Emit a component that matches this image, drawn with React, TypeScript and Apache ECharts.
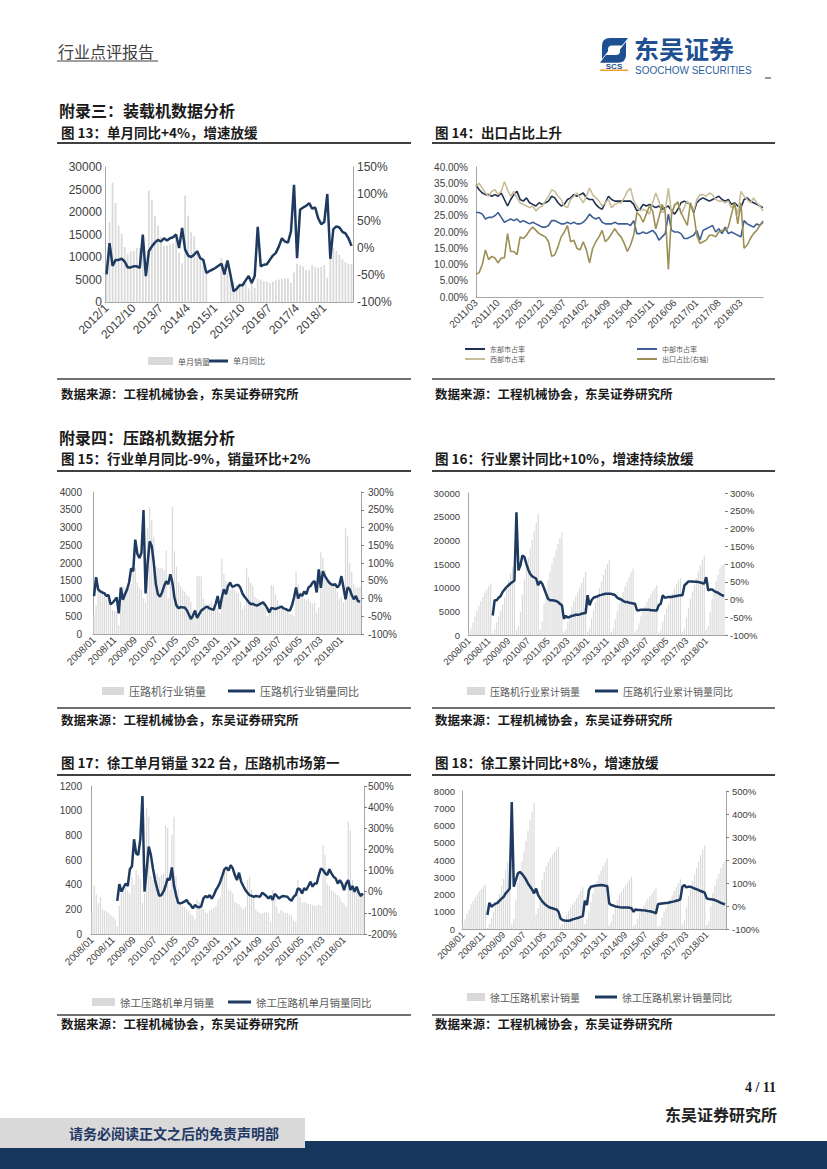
import React, { useEffect, useRef } from "react";
import * as echarts from "echarts";

// ---------- categories ----------
function months(y0: number, m0: number, n: number, pad: boolean): string[] {
  const out: string[] = [];
  let y = y0, m = m0;
  for (let i = 0; i < n; i++) {
    out.push(pad ? `${y}/${String(m).padStart(2, "0")}` : `${y}/${m}`);
    m++;
    if (m > 12) { m = 1; y++; }
  }
  return out;
}
const cats13 = months(2012, 1, 82, false);
const cats14 = months(2011, 3, 92, true);
const catsRoller = months(2008, 1, 130, true);

// ---------- Fig 13: loader monthly sales & YoY ----------
const loaderSales = [
  7000, 17800, 26500, 22000, 17000, 15100, 12200, 10700, 11300, 11300, 12000, 12000,
  11200, 8500, 24700, 22700, 19100, 17000, 14500, 12500, 12500, 12800, 13000, 15000,
  11000, 8600, 23700, 19200, 15500, 14600, 11500, 9800, 8000, 6500, null, null,
  null, null, 9800, 8500, 6500, 5000, 4500, 3800, 4200, 4400, 4000, 3000,
  4200, 3100, 5200, 5000, 4600, 4500, 4200, 4500, 4800, 5000, 5200, 5200,
  5300, 4200, 6600, 8500, 8100, 7900, 7100, 7000, 8200, 7800, 7600, 7800,
  8200, 5400, 12500, 12000, 11300, 10500, 9500, 8900, 8500, 8400,
];
const loaderYoY = [
  -49, 9, -33, -22, -22, -20, -25, -36, -36, -34,
  -34, -37, 25, -52, -6, 3, 10, 15, 12, 18,
  14, 18, 20, 25, 0, 37, -3, -14, -17, -12,
  -6, -19, -22, -46, -43, -40, -37, -33, -29, -49,
  -23, -50, -80, -76, -69, -69, -60, -52, -65, -52,
  39, -34, -31, -30, -22, -14, -9, 3, 18, 12,
  10, 31, 117, -19, 71, 75, 78, 83, 73, 75,
  55, 44, 48, 100, -20, 35, 40, 38, 30, 27,
  18, 4,
];

// ---------- Fig 14: regional shares & export share ----------
const eastShare = [
  34.5, 33, 32, 31.5, 31.5, 31, 31.5, 31, 32, 30,
  28, 30, 31.5, 32.5, 30, 29.5, 30.5, 29, 28.5, 28,
  29, 28.5, 29, 29.5, 31, 30.5, 29, 28, 28.5, 30,
  30.5, 31.5, 31, 31.5, 32, 30.5, 30, 30, 28.5, 27.5,
  27, 29, 31, 30, 29.5, 29.5, 29.5, 29.5, 29.5, 29.5,
  28.5, 26.5, 27, 28.5, 28, 28.5, 28, 27.5, 28, 27,
  27.5, 28, 26.5, 25.5, 27, 29, 29.5, 29, 28.5, 26,
  29, 30, 30.5, 30, 29.5, 30, 30.5, 31, 30, 29.5,
  30, 28.5, 29, 28, 27.5, 30, 30.5, 29.5, 29, 28.5,
  28, 27.5,
];
const centralShare = [
  26, 26, 25.5, 24, 24.5, 24.5, 25, 26, 24.5, 23,
  23.5, 24, 23.5, 24, 23, 23.5, 23, 22.5, 23, 22.5,
  22, 21.5, 21.5, 22, 23.5, 23.5, 23, 22.5, 22.5, 23,
  22.5, 23, 22.5, 22.5, 23, 24, 25.5, 24.5, 24, 24.5,
  23, 22.5, 22.5, 22.5, 23, 22.5, 22.5, 22.5, 22.5, 22,
  23.5, 19.5, 19.5, 20, 19.5, 20, 20.5, 19.5, 17.5, 18.5,
  19.5, 25.5, 20.5, 20, 20, 19.5, 18, 18, 18.5, 19,
  20.5, 17.5, 20.5, 21, 21.5, 22, 20, 21, 19.5, 21.5,
  19.5, 20, 19.5, 19, 18.5, 23.5, 22.5, 22, 21.5, 22.5,
  22, 23,
];
const westShare = [
  34, 35, 33.5, 32, 31, 32.5, 33, 31.5, 32.5, 35.5,
  33, 31, 32.5, 30.5, 29, 28.5, 28, 27.5, 28, 26.5,
  27.5, 28, 29.5, 31, 33, 32.5, 31, 30, 28, 27.5,
  30, 31, 32, 30.5, 29, 31, 33.5, 31.5, 30.5, 29.5,
  28, 29, 30, 27.5, 28.5, 29, 29, 30.5, 32.5, 33.5,
  29.5, 28, 26.5, 27, 26.5, 25.5, 29, 32, 29.5, 26,
  26.5, 33.5, 25.5, 28, 29.5, 25.5, 27.5, 29.5, 28, 26.5,
  30, 31.5, 31.5, 31, 32, 31.5, 30, 29.5, 29.5, 29,
  29.5, 27.5, 28.5, 25.5, 32.5, 31, 30, 29, 30.5, 29,
  28, 26.5,
];
const exportShare = [
  7, 7.5, 10, 14.5, 11.5, 12.5, 12, 10.5, 12, 12,
  19.5, 14, 14, 13, 18.5, 18, 19, 20.5, 21.5, 20.5,
  19.5, 19, 18.5, 17, 12.5, 13, 15.5, 18.5, 20, 22,
  17, 17.5, 15, 14.5, 17, 14.5, 10.5, 15, 17, 18.5,
  20.5, 17, 18, 19.5, 21, 19.5, 18.5, 16.5, 14, 16,
  19, 26, 25, 23, 25.5, 28, 26.5, 21, 24.5, 28.5,
  26, 8.5, 25.5, 28.5, 29, 26, 24, 22, 29, 26,
  19, 16.5, 17, 17.5, 19, 19, 18.5, 20, 20.5, 20.5,
  21.5, 25.5, 29, 22.5, 29, 15, 16, 18, 19.5, 20.5,
  22, 23.5,
];

// ---------- Fig 15: roller industry monthly sales & YoY ----------
const rollerSales = [
  550, 800, 1300, 1250, 1150, 1100, 1000, 950, 850, 680, 650, 640,
  250, 1000, 1350, 1300, 1250, 1300, 1400, 1860, 1860, 1450, 1300, 1250,
  1000, 900, 2980, 3580, 3210, 2740, 1900, 1860, 1850, 1850, 1800, 2350,
  1000, 1500, 3580, 2330, 1900, 1450, 1350, 1250, 1200, 1100, 1050, 900,
  600, 500, 1630, 1640, 1620, 1000, 850, 800, 850, 900, 800, 750,
  750, 600, 2120, 1700, 1500, 1350, 1250, 1300, 1280, 1200, 1150, 900,
  700, 800, 1850, 1600, 1450, 1350, 1050, 1000, 950, 900, 850, 750,
  500, 600, 1380, 1350, 1120, 950, 850, 800, 700, 700, 650, 560,
  550, 500, 1770, 1400, 1200, 1100, 1000, 950, 1000, 900, 850, 880,
  600, 750, 2300, 2150, 1800, 1500, 1400, 1350, 1350, 1300, 1200, 1000,
  1050, 900, 2980, 2750, 2000, 1750, 1400, 1300, 1300, 1330,
];
const rollerYoY = [
  7, 60, 26, 20, 17, 15, 7, 10, -16, -12,
  -5, 3, -42, 31, -4, 12, 25, 45, 85, 77,
  166, 126, 114, 128, 249, 14, 100, 161, 147, 100,
  40, 12, 5, 17, 35, 49, 40, 68, 45, 3,
  -20, -27, -24, -25, -25, -33, -45, -58, -48, -34,
  -55, -44, -34, -30, -25, -23, -28, -30, -32, -15,
  7, -30, 3, 26, 12, 35, 45, 33, 35, 38,
  38, 30, 14, 5, -2, -10, -16, -15, -18, -20,
  -17, -14, -11, -18, -27, -39, -27, -28, -30, -27,
  -25, -23, -28, -30, -33, -34, -20, 3, 31, 0,
  12, 8, 20, 12, 31, 35, 45, 49, 17, 82,
  30, 77, 63, 54, 45, 40, 38, 40, 31, 38,
  63, 31, -2, 31, 26, 10, -2, 7, -7, -9,
];

// ---------- Fig 16: roller industry cumulative sales & YoY ----------
const rollerCum = [
  550, 1350, 2650, 3900, 5050, 6150, 7150, 8100, 8950, 9650, 10300, 10950,
  300, 1300, 2650, 3950, 5200, 6500, 7900, 9750, 11600, 13050, 14350, 15600,
  1000, 1900, 4900, 8500, 11700, 14450, 16350, 18200, 20050, 21900, 23700, 25600,
  1100, 2800, 6600, 9300, 11600, 13400, 15000, 16500, 17900, 19200, 20500, 21700,
  600, 1100, 2750, 4400, 6000, 7200, 8200, 9100, 10050, 11000, 12100, 13300,
  750, 1400, 3500, 5300, 7000, 8500, 9900, 11300, 12700, 13900, 15000, 15800,
  700, 1500, 3350, 5000, 6600, 8000, 9200, 10300, 11300, 12300, 13200, 14000,
  500, 1100, 2500, 3900, 5050, 6050, 6950, 7800, 8550, 9300, 9950, 10500,
  550, 1050, 2850, 4300, 5550, 6700, 7750, 8750, 9800, 10750, 11500, 12000,
  600, 1350, 3650, 5800, 7650, 9200, 10600, 12000, 13400, 14700, 15800, 16800,
  1000, 1900, 4900, 7650, 9650, 11400, 12800, 14000, 14800, 15100,
];
const rollerCumYoY = [
  null, null, null, null, null, null, null, null, null, null, null, null,
  -45, -2, -2, 5, 10, 21, 28, 35, 40, 45,
  49, 54, 246, 82, 96, 124, 120, 101, 84, 72,
  65, 62, 59, 40, 51, 45, 31, 16, 2, -2,
  -2, -3, -4, -7, -12, -16, -54, -46, -51, -49,
  -46, -45, -43, -43, -42, -40, -39, -38, 12, -16,
  -2, 5, 7, 9, 12, 13, 15, 16, 16, 16,
  16, 14, 12, 5, 2, 0, -4, -7, -7, -9,
  -10, -11, -12, -31, -30, -29, -29, -29, -29, -29,
  -30, -30, -31, -31, -16, -12, 12, 5, 6, 7,
  7, 8, 9, 10, 11, 12, 12, 40, 45, 51,
  51, 51, 50, 50, 49, 48, 46, 45, 63, 26,
  28, 28, 24, 21, 19, 15, 12, 10,
];

// ---------- Fig 17: XCMG roller monthly sales & YoY ----------
const xcmgSales = [
  170, 390, 320, 250, 300, 200, 190, 180, 170, 155, 140, 120,
  60, 230, 330, 360, 380, 350, 330, 460, 400, 520, 480, 450,
  250, 330, 1020, 950, 470, 440, 480, 490, 460, 480, 490, 880,
  860, 360, 800, 950, 470, 360, 250, 230, 220, 200, 180, 160,
  150, 120, 280, 260, 230, 200, 180, 170, 190, 200, 210, 230,
  280, 300, 450, 525, 520, 360, 350, 330, 260, 250, 240, 220,
  200, 220, 440, 465, 360, 290, 200, 180, 170, 165, 175, 180,
  170, 100, 357, 330, 220, 170, 195, 180, 170, 170, 160, 150,
  110, 100, 440, 300, 254, 260, 250, 245, 240, 235, 230, 225,
  240, 230, 720, 640, 410, 390, 357, 345, 330, 315, 300, 260,
  250, 220, 910, 840, 438, 360, 340, 330, 330, 322,
];
const xcmgYoY = [
  null, null, null, null, null, null, null, null, null, null, null, null,
  -43, 36, 0, 20, 39, 27, 106, 120, 248, 181,
  174, 250, 453, 0, 103, 213, 174, 110, 55, 16,
  -20, -16, 0, 27, 63, 55, 115, 30, -16, -52,
  -55, -52, -47, -39, -55, -63, -79, -63, -71, -74,
  -68, -32, -20, -27, -16, -32, -16, 8, 24, 45,
  75, 106, 115, 100, 126, 110, 79, 55, 90, 47,
  27, 8, -5, -16, -20, -24, -20, -22, -24, -5,
  -12, -20, -32, -20, -39, -10, -20, -32, -24, -20,
  -22, -24, -36, -43, -24, -16, 16, 11, -8, 16,
  8, 27, 47, 24, 39, 39, 79, 110, 103, 87,
  79, 106, 87, 71, 63, 39, 55, 39, 8, 39,
  55, 8, 27, 0, 24, -5, -20, -8,
];

// ---------- Fig 18: XCMG roller cumulative sales & YoY ----------
const xcmgCum = [
  170, 560, 880, 1130, 1430, 1630, 1820, 2000, 2170, 2320, 2460, 2580,
  60, 290, 620, 980, 1360, 1710, 2040, 2500, 2900, 3420, 3900, 4350,
  250, 600, 1650, 2700, 3300, 3900, 4500, 5100, 5700, 6300, 6800, 7300,
  860, 1200, 1950, 2850, 3300, 3650, 3900, 4100, 4300, 4480, 4630, 4760,
  150, 270, 550, 810, 1040, 1240, 1420, 1590, 1780, 1980, 2190, 2420,
  280, 580, 1030, 1555, 2075, 2435, 2785, 3115, 3375, 3625, 3865, 4085,
  200, 420, 860, 1325, 1685, 1975, 2175, 2355, 2525, 2690, 2865, 3045,
  170, 270, 627, 957, 1177, 1347, 1542, 1722, 1892, 2062, 2222, 2372,
  110, 210, 650, 950, 1204, 1464, 1714, 1959, 2199, 2434, 2664, 2889,
  260, 520, 1250, 1900, 2350, 2780, 3180, 3560, 3930, 4280, 4600, 4860,
  240, 450, 1300, 2100, 2520, 2880, 3200, 3520, 3780, 3990,
];
const xcmgCumYoY = [
  null, null, null, null, null, null, null, null, null, null, null, null,
  -39, 14, -3, 4, 10, 14, 23, 32, 40, 55,
  65, 76, 452, 84, 113, 141, 148, 140, 128, 115,
  98, 85, 72, 55, 76, 47, 33, 20, 11, 3,
  -3, -8, -10, -13, -15, -25, -54, -61, -63, -64,
  -64, -62, -58, -56, -53, -51, -47, -44, 23, 4,
  69, 84, 86, 88, 89, 90, 91, 90, 88, 87,
  11, 4, 2, -2, -3, -5, -6, -6, -6, -7,
  -8, -10, -25, -15, -17, -17, -18, -19, -20, -22,
  -23, -25, -28, -32, 8, 10, 11, 12, 13, 14,
  16, 18, 20, 23, 25, 29, 84, 91, 81, 84,
  84, 80, 76, 73, 69, 65, 62, 58, 33, 30,
  29, 28, 26, 22, 18, 14, 10, 8,
];

// ---------- styles ----------
const NAVY = "#1f3a60";
const BAR = "#d9d9d9";
const AX = "#a6a6a6";
const LBL = "#404040";
const NUM = '"Liberation Sans", Arial, sans-serif';
const CJK = '"Noto Sans CJK SC", sans-serif';
const SERIF = '"Liberation Serif", "Times New Roman", serif';

const pct = (v: number) => `${v}%`;
const plain = (v: number) => String(v);

function xCat(gi: number, data: string[], show: (i: number) => boolean, fs: number, gap: boolean) {
  return {
    type: "category", gridIndex: gi, data, boundaryGap: gap,
    axisLine: { show: true, lineStyle: { color: AX, width: 1 } },
    axisTick: { show: false },
    axisLabel: { interval: (i: number) => show(i), rotate: 45, fontSize: fs, color: LBL, fontFamily: NUM, margin: 4 },
    splitLine: { show: false },
  };
}
function yVal(gi: number, min: number, max: number, step: number, pos: string, fmt: any, fs: number, line: boolean, tick: boolean, margin = 4) {
  return {
    type: "value", gridIndex: gi, position: pos, min, max, interval: step,
    axisLine: { show: line, lineStyle: { color: AX, width: 1 } },
    axisTick: { show: tick, inside: false, length: 3, lineStyle: { color: "#7f7f7f" } },
    axisLabel: { formatter: fmt, fontSize: fs, color: LBL, fontFamily: NUM, margin },
    splitLine: { show: false },
  };
}
function grid(left: number, top: number, width: number, height: number) {
  return { left, top, width, height, containLabel: false, outerBoundsMode: "none" };
}
function lg(name: string, left: number, top: number, w: number, h: number, fs: number) {
  return {
    data: [{ name, icon: "rect" }], left, top, itemWidth: w, itemHeight: h, itemGap: 0, padding: 0,
    selectedMode: false, textStyle: { fontSize: fs, color: "#595959", fontFamily: CJK },
  };
}
function bar(name: string, xi: number, yi: number, data: any[]) {
  return { name, type: "bar", xAxisIndex: xi, yAxisIndex: yi, data, barWidth: "58%", color: BAR, itemStyle: { color: BAR }, z: 2 };
}
function line(name: string, xi: number, yi: number, data: any[], color: string, width: number) {
  return {
    name, type: "line", xAxisIndex: xi, yAxisIndex: yi, data, symbol: "none", showSymbol: false,
    color, lineStyle: { color, width }, z: 3, connectNulls: false,
  };
}

function txt(x: number, y: number, text: string, size: number, weight: string, fill: string, family = CJK, align = "left") {
  return {
    type: "text", x, y, z: 10,
    style: { text, fill, fontSize: size, fontWeight: weight, fontFamily: family, align, verticalAlign: "middle", textAlign: align, textVerticalAlign: "middle" },
  };
}
function hline(x1: number, x2: number, y: number, w: number, color = "#404040") {
  return { type: "line", z: 10, shape: { x1, y1: y, x2, y2: y }, style: { stroke: color, lineWidth: w } };
}
function rect(x: number, y: number, width: number, height: number, fill: string) {
  return { type: "rect", z: 5, shape: { x, y, width, height }, style: { fill } };
}

const SRC = "数据来源：工程机械协会，东吴证券研究所";
const LOGO_D =
  "M10 0 L28 0 L22 8 L12 8 Q8 8 8 12 L8 14 L2 22 L2 8 Q2 0 10 0 Z " +
  "M18 26 L0 26 L6 18 L16 18 Q20 18 20 14 L20 12 L26 4 L26 18 Q26 26 18 26 Z";

function buildOption() {
  const graphics: any[] = [
    // header
    txt(58, 51, "行业点评报告", 16, "normal", "#404040"),
    hline(57, 158, 61, 1.5, "#7f7f7f"),
    { type: "scsLogo", x: 600, y: 38, scaleX: 1.0, scaleY: 0.95, z: 10, style: { fill: "#1d4f91" } },
    txt(614, 66, "SCS", 8, "bold", "#1d4f91", NUM, "center"),
    rect(600, 69.5, 28, 1.5, "#f0a030"),
    txt(634, 48, "东吴证券", 25, "bold", "#1d4f91"),
    txt(635, 70.5, "SOOCHOW SECURITIES", 10, "normal", "#2d5fa0", NUM),
    hline(765, 771, 78, 1, "#333"),

    // section 1
    txt(59, 110, "附录三：装载机数据分析", 16, "bold", "#1a1a1a"),
    txt(61, 132, "图 13：单月同比+4%，增速放缓", 13.5, "bold", "#1a1a1a"),
    txt(435, 132, "图 14：出口占比上升", 13.5, "bold", "#1a1a1a"),
    hline(57, 411, 143, 2),
    hline(432, 775, 143, 2),
    hline(57, 411, 379, 1.5),
    hline(432, 775, 379, 1.5),
    txt(61, 393, SRC, 12.5, "bold", "#1a1a1a"),
    txt(435, 393, SRC, 12.5, "bold", "#1a1a1a"),

    // section 2
    txt(59, 437, "附录四：压路机数据分析", 16, "bold", "#1a1a1a"),
    txt(61, 458, "图 15：行业单月同比-9%，销量环比+2%", 13.5, "bold", "#1a1a1a"),
    txt(435, 458, "图 16：行业累计同比+10%，增速持续放缓", 13.5, "bold", "#1a1a1a"),
    hline(57, 411, 471, 2),
    hline(432, 775, 471, 2),
    hline(57, 411, 708, 1.5),
    hline(432, 775, 708, 1.5),
    txt(61, 719, SRC, 12.5, "bold", "#1a1a1a"),
    txt(435, 719, SRC, 12.5, "bold", "#1a1a1a"),

    // section 3
    txt(61, 762, "图 17：徐工单月销量 322 台，压路机市场第一", 13.5, "bold", "#1a1a1a"),
    txt(435, 762, "图 18：徐工累计同比+8%，增速放缓", 13.5, "bold", "#1a1a1a"),
    hline(57, 411, 775, 2),
    hline(432, 775, 775, 2),
    hline(57, 411, 1015, 1.5),
    hline(432, 775, 1015, 1.5),
    txt(61, 1023, SRC, 12.5, "bold", "#1a1a1a"),
    txt(435, 1023, SRC, 12.5, "bold", "#1a1a1a"),

    // footer
    txt(776, 1087, "4 / 11", 14, "bold", "#1a1a1a", SERIF, "right"),
    txt(777, 1114, "东吴证券研究所", 16, "bold", "#222", CJK, "right"),
    rect(0, 1141, 827, 28, "#17375e"),
    rect(0, 1118, 305, 30, "#d9d9d9"),
    txt(69, 1133, "请务必阅读正文之后的免责声明部", 14, "bold", "#1f3864"),
  ];

  return {
    animation: false,
    backgroundColor: "#ffffff",
    grid: [
      grid(105, 167, 248, 135),
      grid(476, 167, 287, 130),
      grid(93, 492, 268, 142),
      grid(468, 493, 257, 142),
      grid(91, 786, 273, 148),
      grid(462, 791, 264, 138),
    ],
    xAxis: [
      xCat(0, cats13, (i) => i % 9 === 0 && i <= 72, 12, true),
      xCat(1, cats14, (i) => i % 7 === 0 && i <= 84, 10, false),
      xCat(2, catsRoller, (i) => i % 10 === 0 && i <= 120, 10, true),
      xCat(3, catsRoller, (i) => i % 10 === 0 && i <= 120, 9.5, true),
      xCat(4, catsRoller, (i) => i % 10 === 0 && i <= 120, 10, true),
      xCat(5, catsRoller, (i) => i % 10 === 0 && i <= 120, 9.5, true),
    ],
    yAxis: [
      yVal(0, 0, 30000, 5000, "left", plain, 12, true, false, 3),
      yVal(0, -100, 150, 50, "right", pct, 12, true, false, 4),
      yVal(1, 0, 40, 5, "left", (v: number) => v.toFixed(2) + "%", 10, true, false, 8),
      yVal(2, 0, 4000, 500, "left", plain, 10, true, false, 11),
      yVal(2, -100, 300, 50, "right", pct, 10, true, true, 7),
      yVal(3, 0, 30000, 5000, "left", plain, 9.5, true, false, 8),
      yVal(3, -100, 300, 50, "right", pct, 9.5, false, true, 5),
      yVal(4, 0, 1200, 200, "left", plain, 10, true, false, 9),
      yVal(4, -200, 500, 100, "right", pct, 10, true, true, 4),
      yVal(5, 0, 8000, 1000, "left", plain, 9.5, true, false, 7),
      yVal(5, -100, 500, 100, "right", pct, 9.5, true, true, 6),
    ],
    legend: [
      lg("单月销量", 148, 357, 25, 8, 8),
      lg("单月同比", 209, 357, 19, 3, 8),
      lg("东部市占率", 465, 345.5, 20, 2, 7),
      lg("中部市占率", 637, 345.5, 20, 2, 7),
      lg("西部市占率", 465, 355.5, 20, 2, 7),
      lg("出口占比(右轴)", 637, 355.5, 20, 2, 7),
      lg("压路机行业销量", 102, 685.5, 22, 8, 11),
      lg("压路机行业销量同比", 228, 685.5, 27, 3, 11),
      lg("压路机行业累计销量", 467, 686, 18, 8, 10),
      lg("压路机行业累计销量同比", 595, 686, 23, 3, 10),
      lg("徐工压路机单月销量", 92, 996.75, 23, 8, 10.5),
      lg("徐工压路机单月销量同比", 228, 996.75, 23, 3, 10.5),
      lg("徐工压路机累计销量", 467, 992, 18, 8, 10),
      lg("徐工压路机累计销量同比", 595, 992, 22, 3, 10),
    ],
    series: [
      bar("单月销量", 0, 0, loaderSales),
      line("单月同比", 0, 1, loaderYoY, NAVY, 2.5),
      line("东部市占率", 1, 2, eastShare, "#1f3050", 1.6),
      line("中部市占率", 1, 2, centralShare, "#3d5f93", 1.6),
      line("西部市占率", 1, 2, westShare, "#c9bd98", 1.6),
      line("出口占比(右轴)", 1, 2, exportShare, "#9c8f55", 1.6),
      bar("压路机行业销量", 2, 3, rollerSales),
      line("压路机行业销量同比", 2, 4, rollerYoY, NAVY, 2.5),
      bar("压路机行业累计销量", 3, 5, rollerCum),
      line("压路机行业累计销量同比", 3, 6, rollerCumYoY, NAVY, 2.5),
      bar("徐工压路机单月销量", 4, 7, xcmgSales),
      line("徐工压路机单月销量同比", 4, 8, xcmgYoY, NAVY, 2.5),
      bar("徐工压路机累计销量", 5, 9, xcmgCum),
      line("徐工压路机累计销量同比", 5, 10, xcmgCumYoY, NAVY, 2.5),
    ],
    graphic: { elements: graphics },
  };
}

export default function App() {
  const ref = useRef<HTMLDivElement | null>(null);
  useEffect(() => {
    echarts.graphic.registerShape("scsLogo", echarts.graphic.extendPath(LOGO_D, {}) as any);
    const chart = echarts.init(ref.current as HTMLDivElement, null, { renderer: "svg" });
    chart.setOption(buildOption() as any);
    return () => chart.dispose();
  }, []);
  return (
    <div
      ref={ref}
      style={{ position: "absolute", left: 0, top: 0, width: 827, height: 1169, background: "#fff" }}
    />
  );
}
